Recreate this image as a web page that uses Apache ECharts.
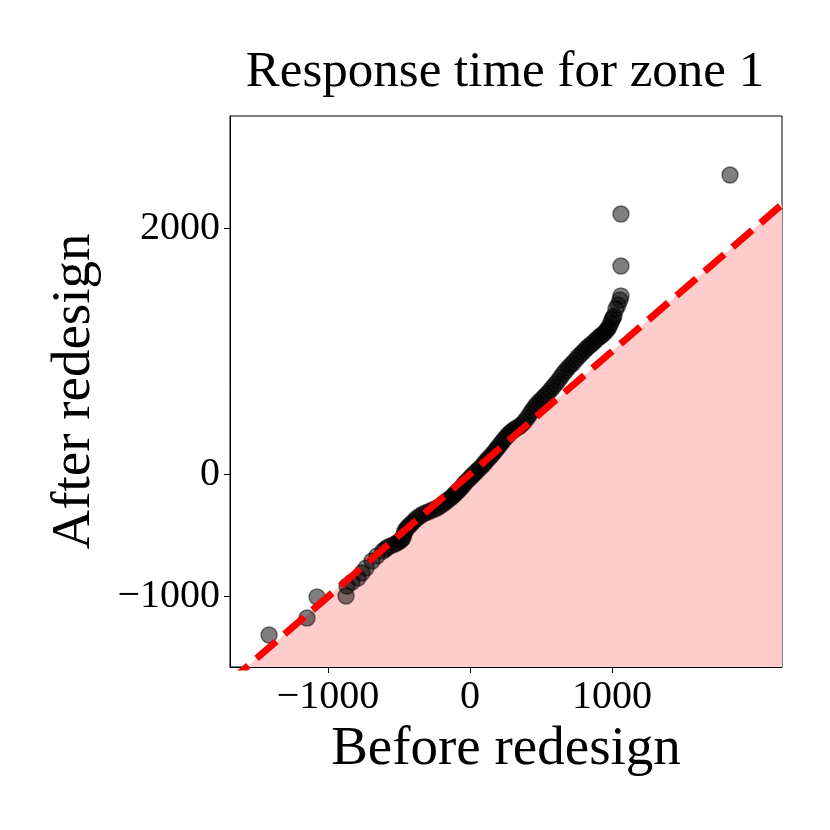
<!DOCTYPE html>
<html>
<head>
<meta charset="utf-8">
<script src="https://cdn.jsdelivr.net/npm/echarts@6/dist/echarts.min.js"></script>
<style>
  html, body { margin: 0; padding: 0; background: #fff; }
  #chart { width: 830px; height: 830px; }
</style>
</head>
<body>
<div id="chart"></div>
<script>
// quantiles before / after redesign
var before = [-1415, -1148, -1077, -873, -866, -831, -789, -761, -732, -690,
  -655, -613, -595, -577, -552, -528, -510, -493, -482, -472,
  -465, -458, -447, -437, -422, -408, -390, -373, -352, -331,
  -306, -282, -257, -232, -211, -190, -172, -155, -137, -120,
  -106, -92, -78, -63, -49, -35, -18, 0, 14, 28,
  42, 56, 74, 92, 106, 120, 134, 148, 162, 176,
  190, 204, 218, 232, 246, 261, 275, 289, 303, 317,
  334, 352, 370, 387, 405, 423, 437, 451, 465, 479,
  496, 514, 531, 549, 567, 585, 602, 620, 637, 655,
  672, 690, 707, 725, 743, 761, 778, 796, 813, 831,
  848, 866, 883, 901, 915, 930, 944, 958, 969, 979,
  990, 1000, 1007, 1014, 1028, 1042, 1056, 1063, 1063, 1063,
  1831];
var after = [-1312, -1174, -1002, -994, -913, -880, -848, -807, -766, -709,
  -668, -628, -611, -595, -582, -570, -558, -546, -534, -522,
  -492, -465, -448, -432, -416, -399, -378, -359, -342, -326,
  -314, -302, -290, -277, -261, -245, -229, -212, -196, -179,
  -163, -147, -131, -114, -94, -73, -53, -33, -16, 0,
  16, 33, 53, 73, 94, 114, 130, 147, 167, 187,
  208, 228, 249, 269, 290, 310, 326, 342, 355, 367,
  379, 391, 411, 432, 461, 489, 514, 538, 559, 579,
  599, 619, 640, 660, 685, 709, 734, 758, 787, 815,
  840, 864, 885, 905, 930, 954, 974, 994, 1015, 1035,
  1052, 1068, 1088, 1108, 1121, 1133, 1149, 1165, 1182, 1198,
  1227, 1255, 1272, 1288, 1345, 1377, 1418, 1451, 1695, 2119,
  2437];

// reference line y = x
var lineEnds = [-1700, 2200];

var xTicks = [-1000, 0, 1000];
var yTicks = [-1000, 0, 2000];

var xRange = [-1690, 2197];
var yRange = [-1573, 2918];

var myChart = echarts.init(document.getElementById('chart'));

var points = before.map(function (b, i) { return [b, after[i]]; });
var diag = lineEnds.map(function (v) { return [v, v]; });

var font = 'Liberation Serif';

function minusFmt(v) { return v < 0 ? '\u2212' + (-v) : '' + v; }

var option = {
  animation: false,
  title: {
    text: 'Response time for zone 1',
    left: 500,
    textAlign: 'center',
    top: 42,
    textStyle: { fontFamily: font, fontWeight: 'normal', fontSize: 51, color: '#000' }
  },
  grid: {
    left: 230, top: 116, width: 552, height: 551,
    show: true, borderColor: '#000', borderWidth: 1
  },
  xAxis: {
    type: 'value',
    min: xRange[0], max: xRange[1],
    name: 'Before redesign',
    nameLocation: 'middle',
    nameGap: 54,
    nameTextStyle: { fontFamily: font, fontSize: 55, color: '#000' },
    splitLine: { show: false },
    axisLine: { show: true, onZero: false, lineStyle: { color: '#000', width: 1 } },
    axisTick: { show: true, inside: false, length: 6, customValues: xTicks, lineStyle: { color: '#000' } },
    axisLabel: {
      customValues: xTicks, margin: 10,
      fontFamily: font, fontSize: 40, color: '#000',
      formatter: minusFmt
    }
  },
  yAxis: {
    type: 'value',
    min: yRange[0], max: yRange[1],
    name: 'After redesign',
    nameLocation: 'middle',
    nameGap: 128,
    nameTextStyle: { fontFamily: font, fontSize: 55, color: '#000' },
    splitLine: { show: false },
    axisLine: { show: true, onZero: false, lineStyle: { color: '#000', width: 1 } },
    axisTick: { show: true, inside: false, length: 6, customValues: yTicks, lineStyle: { color: '#000' } },
    axisLabel: {
      customValues: yTicks, margin: 10,
      fontFamily: font, fontSize: 40, color: '#000',
      formatter: minusFmt
    }
  },
  series: [
    {
      type: 'line',
      data: diag,
      symbol: 'none',
      z: 1,
      lineStyle: { width: 0 },
      areaStyle: { origin: 'start', color: '#ffcccc', opacity: 1 }
    },
    {
      type: 'scatter',
      data: points,
      symbolSize: 16,
      z: 2,
      itemStyle: { color: 'rgba(0,0,0,0.5)', borderColor: 'rgba(0,0,0,0.5)', borderWidth: 1.5, opacity: 1 }
    },
    {
      type: 'line',
      data: diag,
      symbol: 'none',
      z: 3,
      lineStyle: { color: '#ff0000', width: 7, type: [26, 11] }
    }
  ]
};

myChart.setOption(option);
</script>
</body>
</html>
